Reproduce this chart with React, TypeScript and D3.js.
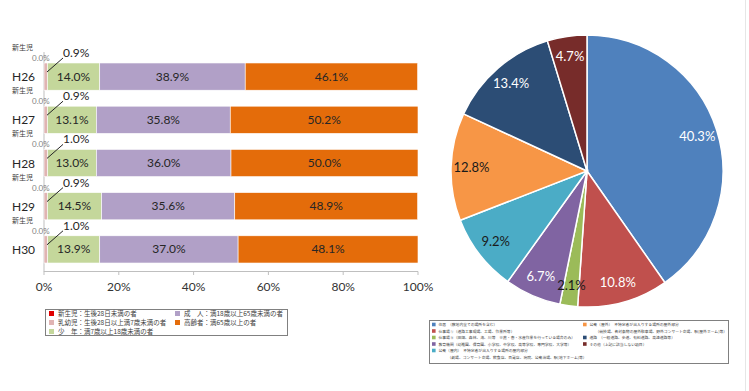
import React from "react";
import * as d3 from "d3";

const years = ["H26", "H27", "H28", "H29", "H30"];
const groups = ["新生児", "乳幼児", "少年", "成人", "高齢者"];
const neonate = [0.0, 0.0, 0.0, 0.0, 0.0];
const infant = [0.9, 0.9, 1.0, 0.9, 1.0];
const youth = [14.0, 13.1, 13.0, 14.5, 13.9];
const adult = [38.9, 35.8, 36.0, 35.6, 37.0];
const elderly = [46.1, 50.2, 50.0, 48.9, 48.1];
const xTicks = [0, 20, 40, 60, 80, 100];
const barLegend = [
  "新生児：生後28日未満の者",
  "乳幼児：生後28日以上満7歳未満の者",
  "少　年：満7歳以上18歳未満の者",
  "成　人：満18歳以上65歳未満の者",
  "高齢者：満65歳以上の者",
];
const barColors = ["#e00000", "#e0b4b3", "#c4d79b", "#b1a0c7", "#e46c0a"];

const places = ["住居", "仕事場①", "仕事場②", "教育機関", "公衆（屋内）", "公衆（屋外）", "道路", "その他"];
const placeValues = [40.3, 10.8, 2.1, 6.7, 9.2, 12.8, 13.4, 4.7];
const pieColors = ["#4f81bd", "#c0504d", "#9bbb59", "#8064a2", "#4bacc6", "#f79646", "#2c4d75", "#772c2a"];
const pieLabelDark = [false, false, true, false, true, true, false, false];
const pieLegend = [
  ["住居　（敷地内全ての場所を含む）"],
  ["仕事場①（道路工事現場、工場、作業所等）"],
  ["仕事場②（田畑、森林、海、川等　※農・畜・水産作業を行っている場合のみ）"],
  ["教育機関（幼稚園、保育園、小学校、中学校、高等学校、専門学校、大学等）"],
  ["公衆（屋内）　不特定者が出入りする場所の屋内部分", "（劇場、コンサート会場、飲食店、百貨店、病院、公衆浴場、駅(地下ホーム)等）"],
  ["公衆（屋外）　不特定者が出入りする場所の屋外部分", "（競技場、各対象物の屋外駐車場、野外コンサート会場、駅(屋外ホーム)等）"],
  ["道路　（一般道路、歩道、有料道路、高速道路等）"],
  ["その他（上記に該当しない項目）"],
];

const NUM = "Lato, 'Open Sans', sans-serif";
const JP = "'Noto Sans CJK JP', sans-serif";

export default function App() {
  const W = 749, H = 391;
  const x = d3.scaleLinear().domain([0, 100]).range([44, 418]);
  const y = d3.scaleBand().domain(years).range([47, 279]).paddingInner(0.37).paddingOuter(0.37);
  const series = [neonate, infant, youth, adult, elderly];
  const rows = years.map((yr, i) => {
    let acc = 0;
    const segs = series.map((s, k) => {
      const v = s[i];
      const seg = { k, x0: acc, x1: acc + v, v };
      acc += v;
      return seg;
    });
    return { yr, segs };
  });

  const R = 136;
  const cx = 587, cy = 171;
  const pie = d3.pie<number>().sort(null).value((d) => d)(placeValues);
  const arc = d3.arc<d3.PieArcDatum<number>>().innerRadius(0).outerRadius(R);
  const labelArc = d3.arc<d3.PieArcDatum<number>>().innerRadius(R * 0.85).outerRadius(R * 0.85);

  return (
    <svg width={W} height={H} style={{ position: "absolute", left: 0, top: 0, background: "#fff" }}>
      <rect width={W} height={H} fill="#fff" />
      {/* bar chart axes */}
      <line x1={x(0)} x2={x(0)} y1={52} y2={272} stroke="#bfbfbf" />
      <line x1={x(0)} x2={x(100)} y1={271.5} y2={271.5} stroke="#bfbfbf" />
      {xTicks.map((t) => (
        <g key={t}>
          <line x1={x(t)} x2={x(t)} y1={271.5} y2={275} stroke="#bfbfbf" />
          <text x={x(t)} y={291} textAnchor="middle" fontFamily={NUM} fontSize={12} fill="#333">{t}%</text>
        </g>
      ))}
      {rows.map((r, i) => {
        const top = y(r.yr)!;
        const bh = y.bandwidth();
        return (
          <g key={r.yr}>
            {r.segs.map((s) => (
              <rect key={s.k} x={x(s.x0)} y={top} width={x(s.x1) - x(s.x0)} height={bh} fill={barColors[s.k]} stroke="#fff" strokeWidth={0.6} />
            ))}
            {r.segs.filter((s) => s.k >= 2).map((s) => (
              <text key={"l" + s.k} x={(x(s.x0) + x(s.x1)) / 2} y={top + bh / 2 + 4} textAnchor="middle" fontFamily={NUM} fontSize={12} fill="#262626">
                {s.v.toFixed(1)}%
              </text>
            ))}
            <text x={12} y={top + bh / 2 + 4.5} fontFamily={NUM} fontSize={12} fill="#262626">{r.yr}</text>
            <text x={12} y={top - 13} fontFamily={JP} fontSize={7} fill="#404040">{groups[0]}</text>
            <text x={32} y={top - 2} fontFamily={NUM} fontSize={8} fill="#7f7f7f">{neonate[i].toFixed(1)}%</text>
            <line x1={x(0) + 3} y1={top + 9} x2={x(0) + 19} y2={top - 5} stroke="#262626" strokeWidth={1} />
            <text x={63} y={top - 6} fontFamily={NUM} fontSize={12} fill="#262626">{infant[i].toFixed(1)}%</text>
          </g>
        );
      })}
      {/* bar legend */}
      <rect x={45.5} y={309.5} width={242} height={26} fill="#fff" stroke="#808080" />
      {barLegend.map((t, k) => {
        const col = k < 3 ? 0 : 1;
        const row = k < 3 ? k : k - 3;
        const lx = col === 0 ? 49 : 175;
        const ly = 313.5 + row * 9;
        return (
          <g key={t}>
            <rect x={lx} y={ly - 2.5} width={5} height={5} fill={barColors[k]} />
            <text x={lx + 9} y={ly + 2.3} fontFamily={JP} fontSize={6.5} fill="#404040">{t}</text>
          </g>
        );
      })}

      {/* pie */}
      <g transform={`translate(${cx},${cy})`}>
        {pie.map((p, i) => (
          <path key={places[i]} d={arc(p)!} fill={pieColors[i]} stroke="#fff" strokeWidth={1.5} />
        ))}
        {pie.map((p, i) => {
          const [lx, ly] = labelArc.centroid(p);
          return (
            <text key={"t" + i} x={lx} y={ly + 4.5} textAnchor="middle" fontFamily={NUM} fontSize={13} fill={pieLabelDark[i] ? "#1a1a1a" : "#fff"}>
              {placeValues[i].toFixed(1)}%
            </text>
          );
        })}
      </g>
      {/* pie legend */}
      <rect x={429.5} y={320.5} width={299} height={43} fill="#fff" stroke="#808080" />
      {(() => {
        const items: JSX.Element[] = [];
        let r0 = 0, r1 = 0;
        pieLegend.forEach((lines, k) => {
          const col = k < 5 ? 0 : 1;
          const lx = col === 0 ? 432 : 583;
          const rowIdx = col === 0 ? r0 : r1;
          const ly = 324.5 + rowIdx * 6.5;
          items.push(
            <g key={places[k]}>
              <rect x={lx} y={ly - 1.8} width={3.6} height={3.6} fill={pieColors[k]} />
              {lines.map((ln, j) => (
                <text key={j} x={lx + 6.5 + (j > 0 ? (col === 0 ? 9 : 6) : 0)} y={ly + 1.5 + j * 6.5} fontFamily={JP} fontSize={3.8} fill="#404040">{ln}</text>
              ))}
            </g>
          );
          if (col === 0) r0 += lines.length; else r1 += lines.length;
        });
        return items;
      })()}
      <line x1={745.5} x2={745.5} y1={0} y2={H} stroke="#e6e6e6" />
    </svg>
  );
}
